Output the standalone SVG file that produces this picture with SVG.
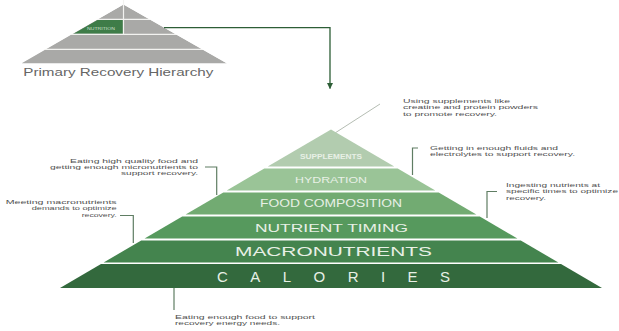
<svg xmlns="http://www.w3.org/2000/svg" width="619" height="331" viewBox="0 0 619 331">
<style>
.lbl{font-family:"Liberation Sans",Arial,sans-serif;font-size:6.2px;fill:#505050;}
.band{font-family:"Liberation Sans",Arial,sans-serif;fill:#e8f0e6;text-anchor:middle;}
.lead{fill:none;stroke:#5f7d63;stroke-width:1.2;}
</style>
<defs>
<marker id="ah" viewBox="0 0 10 10" refX="9" refY="5" markerWidth="6" markerHeight="6" orient="auto" markerUnits="userSpaceOnUse">
<path d="M0,0 L10,5 L0,10 Z" fill="#2d5e36"/>
</marker>
</defs>
<rect width="619" height="331" fill="#ffffff"/>

<g id="mini-pyramid">
<polygon points="123.5,4.5 226.7,63.3 21.7,63.3" fill="#a9a9a7"/>
<polygon points="97.5,20 122.8,20 122.8,33.7 73.5,33.7" fill="#3e7c48"/>
<g stroke="#f2f2f0" stroke-width="1.2">
<line x1="0" y1="19.3" x2="240" y2="19.3"/>
<line x1="0" y1="34.3" x2="240" y2="34.3"/>
<line x1="0" y1="49.3" x2="240" y2="49.3"/>
<line x1="123.5" y1="0" x2="123.5" y2="34.3"/>
</g>
<polygon points="123.5,4.5 0,74.9 0,0" fill="#fff"/>
<polygon points="123.5,4.5 250,76.6 250,0" fill="#fff"/>
<text x="101" y="29.8" font-family="Liberation Sans,Arial,sans-serif" font-size="3.6" fill="#cfe0cf" text-anchor="middle" textLength="28" lengthAdjust="spacingAndGlyphs">NUTRITION</text>
<text x="23.3" y="75.5" font-family="Liberation Sans,Arial,sans-serif" font-size="10.5" fill="#666" textLength="190" lengthAdjust="spacingAndGlyphs">Primary Recovery Hierarchy</text>
</g>

<g id="connectors">
<path d="M164,27.7 H330 V88.5" fill="none" stroke="#2d5e36" stroke-width="1.3" marker-end="url(#ah)"/>
<line x1="380" y1="104" x2="335" y2="133" stroke="#b5bdb3" stroke-width="1"/>
<path class="lead" d="M418,148 H412.5 V175"/>
<path class="lead" d="M497,191.5 H487 V218"/>
<path class="lead" d="M205,167 H216.7 V195"/>
<path class="lead" d="M120,215.5 H133.3 V243"/>
<path class="lead" d="M174,288 V310"/>
</g>

<g id="supplements">
<polygon points="331,129.5 394.3,166.5 267.7,166.5" fill="#b2ccaf"/>
<text class="band" x="331" y="159" font-size="6.5" font-weight="bold" textLength="62" lengthAdjust="spacingAndGlyphs" fill="#f4f8f2">SUPPLEMENTS</text>
</g>
<g id="hydration">
<polygon points="264.3,168.5 397.7,168.5 435.3,190.5 226.7,190.5" fill="#9ac497"/>
<text class="band" x="331" y="182.5" font-size="9" textLength="72" lengthAdjust="spacingAndGlyphs">HYDRATION</text>
</g>
<g id="food-composition">
<polygon points="223.3,192.5 438.7,192.5 476.4,214.5 185.6,214.5" fill="#72ab72"/>
<text class="band" x="331" y="207" font-size="10" textLength="142" lengthAdjust="spacingAndGlyphs">FOOD COMPOSITION</text>
</g>
<g id="nutrient-timing">
<polygon points="182.2,216.5 479.8,216.5 517.4,238.5 144.6,238.5" fill="#56995d"/>
<text class="band" x="331.5" y="232" font-size="11" textLength="153" lengthAdjust="spacingAndGlyphs">NUTRIENT TIMING</text>
</g>
<g id="macronutrients">
<polygon points="141.2,240.5 520.8,240.5 558.4,262.5 103.6,262.5" fill="#44844e"/>
<text class="band" x="333.5" y="256" font-size="13" textLength="197" lengthAdjust="spacingAndGlyphs">MACRONUTRIENTS</text>
</g>
<g id="calories">
<polygon points="101,264 561,264 602,288 60,288" fill="#33693d"/>
<text class="band" x="333.5" y="282" font-size="15" textLength="233" lengthAdjust="spacing">CALORIES</text>
</g>

<g id="label-supplements">
<text class="lbl" x="403" y="103" textLength="107" lengthAdjust="spacingAndGlyphs">Using supplements like</text>
<text class="lbl" x="403" y="109.3" textLength="135" lengthAdjust="spacingAndGlyphs">creatine and protein powders</text>
<text class="lbl" x="403" y="115.6" textLength="94" lengthAdjust="spacingAndGlyphs">to promote recovery.</text>
</g>
<g id="label-hydration">
<text class="lbl" x="430" y="149.5" textLength="128" lengthAdjust="spacingAndGlyphs">Getting in enough fluids and</text>
<text class="lbl" x="430" y="155.8" textLength="145" lengthAdjust="spacingAndGlyphs">electrolytes to support recovery.</text>
</g>
<g id="label-nutrient-timing">
<text class="lbl" x="506" y="187" textLength="94" lengthAdjust="spacingAndGlyphs">Ingesting nutrients at</text>
<text class="lbl" x="506" y="193.3" textLength="112" lengthAdjust="spacingAndGlyphs">specific times to optimize</text>
<text class="lbl" x="506" y="199.6" textLength="40" lengthAdjust="spacingAndGlyphs">recovery.</text>
</g>
<g id="label-food-composition" text-anchor="end">
<text class="lbl" x="198" y="162.5" textLength="128" lengthAdjust="spacingAndGlyphs">Eating high quality food and</text>
<text class="lbl" x="198" y="168.8" textLength="148" lengthAdjust="spacingAndGlyphs">getting enough micronutrients to</text>
<text class="lbl" x="198" y="175.1" textLength="77" lengthAdjust="spacingAndGlyphs">support recovery.</text>
</g>
<g id="label-macronutrients" text-anchor="end">
<text class="lbl" x="116.7" y="204" textLength="111" lengthAdjust="spacingAndGlyphs">Meeting macronutrients</text>
<text class="lbl" x="116.7" y="210.3" textLength="85" lengthAdjust="spacingAndGlyphs">demands to optimize</text>
<text class="lbl" x="116.7" y="216.6" textLength="35" lengthAdjust="spacingAndGlyphs">recovery.</text>
</g>
<g id="label-calories">
<text class="lbl" x="175" y="319" textLength="140" lengthAdjust="spacingAndGlyphs">Eating enough food to support</text>
<text class="lbl" x="175" y="325.3" textLength="105" lengthAdjust="spacingAndGlyphs">recovery energy needs.</text>
</g>
</svg>
